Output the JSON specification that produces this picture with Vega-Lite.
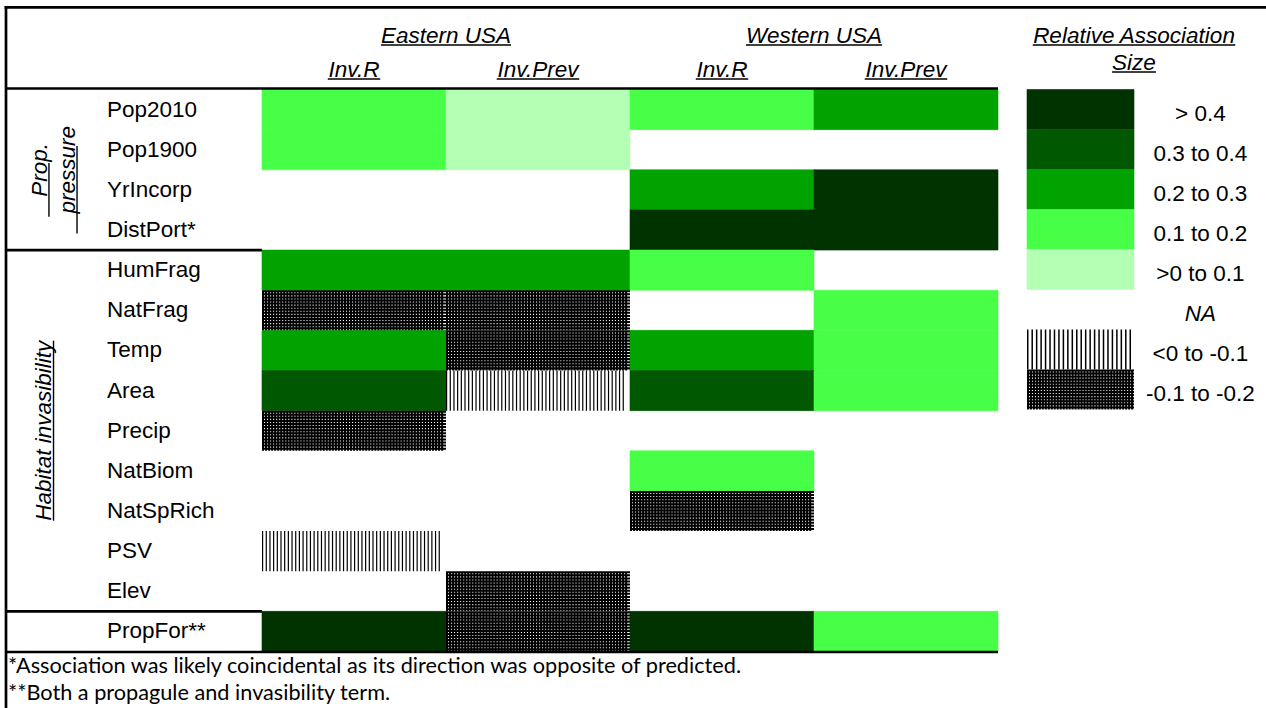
{
  "$schema": "https://vega.github.io/schema/vega-lite/v6.json",
  "width": 1266,
  "height": 708,
  "padding": 0,
  "autosize": {"type": "none"},
  "background": "white",
  "config": {
    "view": {"stroke": null},
    "axis": {"disable": true},
    "legend": {"disable": true},
    "font": "Liberation Sans",
    "mark": {"color": "#000"},
    "text": {"color": "#000", "font": "Liberation Sans"}
  },
  "datasets": {
    "rows": [
      {"row": "Pop2010"}, {"row": "Pop1900"}, {"row": "YrIncorp"}, {"row": "DistPort*"},
      {"row": "HumFrag"}, {"row": "NatFrag"}, {"row": "Temp"}, {"row": "Area"},
      {"row": "Precip"}, {"row": "NatBiom"}, {"row": "NatSpRich"}, {"row": "PSV"},
      {"row": "Elev"}, {"row": "PropFor**"}
    ],
    "cells": [
      {"row": "Pop2010", "col": "E Inv.R", "assoc": "0.1 to 0.2"},
      {"row": "Pop2010", "col": "E Inv.Prev", "assoc": ">0 to 0.1"},
      {"row": "Pop2010", "col": "W Inv.R", "assoc": "0.1 to 0.2"},
      {"row": "Pop2010", "col": "W Inv.Prev", "assoc": "0.2 to 0.3"},
      {"row": "Pop1900", "col": "E Inv.R", "assoc": "0.1 to 0.2"},
      {"row": "Pop1900", "col": "E Inv.Prev", "assoc": ">0 to 0.1"},
      {"row": "YrIncorp", "col": "W Inv.R", "assoc": "0.2 to 0.3"},
      {"row": "YrIncorp", "col": "W Inv.Prev", "assoc": "> 0.4"},
      {"row": "DistPort*", "col": "W Inv.R", "assoc": "> 0.4"},
      {"row": "DistPort*", "col": "W Inv.Prev", "assoc": "> 0.4"},
      {"row": "HumFrag", "col": "E Inv.R", "assoc": "0.2 to 0.3"},
      {"row": "HumFrag", "col": "E Inv.Prev", "assoc": "0.2 to 0.3"},
      {"row": "HumFrag", "col": "W Inv.R", "assoc": "0.1 to 0.2"},
      {"row": "NatFrag", "col": "E Inv.R", "assoc": "-0.1 to -0.2"},
      {"row": "NatFrag", "col": "E Inv.Prev", "assoc": "-0.1 to -0.2"},
      {"row": "NatFrag", "col": "W Inv.Prev", "assoc": "0.1 to 0.2"},
      {"row": "Temp", "col": "E Inv.R", "assoc": "0.2 to 0.3"},
      {"row": "Temp", "col": "E Inv.Prev", "assoc": "-0.1 to -0.2"},
      {"row": "Temp", "col": "W Inv.R", "assoc": "0.2 to 0.3"},
      {"row": "Temp", "col": "W Inv.Prev", "assoc": "0.1 to 0.2"},
      {"row": "Area", "col": "E Inv.R", "assoc": "0.3 to 0.4"},
      {"row": "Area", "col": "E Inv.Prev", "assoc": "<0 to -0.1"},
      {"row": "Area", "col": "W Inv.R", "assoc": "0.3 to 0.4"},
      {"row": "Area", "col": "W Inv.Prev", "assoc": "0.1 to 0.2"},
      {"row": "Precip", "col": "E Inv.R", "assoc": "-0.1 to -0.2"},
      {"row": "NatBiom", "col": "W Inv.R", "assoc": "0.1 to 0.2"},
      {"row": "NatSpRich", "col": "W Inv.R", "assoc": "-0.1 to -0.2"},
      {"row": "PSV", "col": "E Inv.R", "assoc": "<0 to -0.1"},
      {"row": "Elev", "col": "E Inv.Prev", "assoc": "-0.1 to -0.2"},
      {"row": "PropFor**", "col": "E Inv.R", "assoc": "> 0.4"},
      {"row": "PropFor**", "col": "E Inv.Prev", "assoc": "-0.1 to -0.2"},
      {"row": "PropFor**", "col": "W Inv.R", "assoc": "> 0.4"},
      {"row": "PropFor**", "col": "W Inv.Prev", "assoc": "0.1 to 0.2"}
    ],
    "cols": [
      {"col": "E Inv.R", "region": "Eastern USA", "metric": "Inv.R"},
      {"col": "E Inv.Prev", "region": "Eastern USA", "metric": "Inv.Prev"},
      {"col": "W Inv.R", "region": "Western USA", "metric": "Inv.R"},
      {"col": "W Inv.Prev", "region": "Western USA", "metric": "Inv.Prev"}
    ],
    "regions": [{"region": "Eastern USA"}, {"region": "Western USA"}],
    "legend": [
      {"assoc": "> 0.4"}, {"assoc": "0.3 to 0.4"}, {"assoc": "0.2 to 0.3"}, {"assoc": "0.1 to 0.2"},
      {"assoc": ">0 to 0.1"}, {"assoc": "NA"}, {"assoc": "<0 to -0.1"}, {"assoc": "-0.1 to -0.2"}
    ],
    "ltitle": [{"line": "Relative Association"}, {"line": "Size"}],
    "notes": [
      {"note": "*Association was likely coincidental as its direction was opposite of predicted."},
      {"note": "**Both a propagule and invasibility term."}
    ]
  },
  "resolve": {"scale": {"x": "independent", "y": "independent", "fill": "independent", "stroke": "independent", "size": "independent"}},
  "layer": [
    {
      "data": {"name": "cells"},
      "encoding": {
        "x": {"field": "col", "type": "nominal", "axis": null, "scale": {"type": "band", "domain": ["E Inv.R", "E Inv.Prev", "W Inv.R", "W Inv.Prev"], "range": [262, 998], "paddingInner": 0, "paddingOuter": 0}},
        "y": {"field": "row", "type": "nominal", "axis": null, "scale": {"type": "band", "domain": ["Pop2010", "Pop1900", "YrIncorp", "DistPort*", "HumFrag", "NatFrag", "Temp", "Area", "Precip", "NatBiom", "NatSpRich", "PSV", "Elev", "PropFor**"], "range": [89.5, 651.5], "paddingInner": 0, "paddingOuter": 0}}
      },
      "layer": [
        {
          "transform": [{"filter": {"field": "assoc", "oneOf": ["> 0.4", "0.3 to 0.4", "0.2 to 0.3", "0.1 to 0.2", ">0 to 0.1"]}}],
          "mark": {"type": "rect", "strokeWidth": 0.6},
          "encoding": {
            "fill": {"field": "assoc", "type": "nominal", "legend": null, "scale": {"type": "ordinal", "domain": ["> 0.4", "0.3 to 0.4", "0.2 to 0.3", "0.1 to 0.2", ">0 to 0.1"], "range": ["#003300", "#005800", "#00a300", "#48ff48", "#b3ffb3"]}},
            "stroke": {"field": "assoc", "type": "nominal", "legend": null, "scale": {"type": "ordinal", "domain": ["> 0.4", "0.3 to 0.4", "0.2 to 0.3", "0.1 to 0.2", ">0 to 0.1"], "range": ["#003300", "#005800", "#00a300", "#48ff48", "#b3ffb3"]}}
          }
        },
        {
          "transform": [{"filter": {"field": "assoc", "equal": "<0 to -0.1"}}],
          "mark": {"type": "point", "filled": true, "fill": "#000", "strokeWidth": 0, "opacity": 1, "size": 33856,
            "shape": "M-1-.218h.013v.436h-.013v-.436m.04 0h.013v.436h-.013v-.436m.04 0h.013v.436h-.013v-.436m.04 0h.013v.436h-.013v-.436m.04 0h.013v.436h-.013v-.436m.04 0h.013v.436h-.013v-.436m.04 0h.013v.436h-.013v-.436m.04 0h.013v.436h-.013v-.436m.04 0h.013v.436h-.013v-.436m.04 0h.013v.436h-.013v-.436m.04 0h.013v.436h-.013v-.436m.04 0h.013v.436h-.013v-.436m.04 0h.013v.436h-.013v-.436m.04 0h.013v.436h-.013v-.436m.04 0h.013v.436h-.013v-.436m.04 0h.013v.436h-.013v-.436m.04 0h.013v.436h-.013v-.436m.04 0h.013v.436h-.013v-.436m.04 0h.013v.436h-.013v-.436m.04 0h.013v.436h-.013v-.436m.04 0h.013v.436h-.013v-.436m.04 0h.013v.436h-.013v-.436m.04 0h.013v.436h-.013v-.436m.04 0h.013v.436h-.013v-.436m.04 0h.013v.436h-.013v-.436m.04 0h.013v.436h-.013v-.436m.04 0h.013v.436h-.013v-.436m.04 0h.013v.436h-.013v-.436m.04 0h.013v.436h-.013v-.436m.04 0h.013v.436h-.013v-.436m.04 0h.013v.436h-.013v-.436m.04 0h.013v.436h-.013v-.436m.04 0h.013v.436h-.013v-.436m.04 0h.013v.436h-.013v-.436m.04 0h.013v.436h-.013v-.436m.04 0h.013v.436h-.013v-.436m.04 0h.013v.436h-.013v-.436m.04 0h.013v.436h-.013v-.436m.04 0h.013v.436h-.013v-.436m.04 0h.013v.436h-.013v-.436m.04 0h.013v.436h-.013v-.436m.04 0h.013v.436h-.013v-.436m.04 0h.013v.436h-.013v-.436m.04 0h.013v.436h-.013v-.436m.04 0h.013v.436h-.013v-.436m.04 0h.013v.436h-.013v-.436m.04 0h.013v.436h-.013v-.436m.04 0h.013v.436h-.013v-.436m.04 0h.013v.436h-.013v-.436"}
        },
        {
          "transform": [{"filter": {"field": "assoc", "equal": "-0.1 to -0.2"}}],
          "mark": {"type": "point", "filled": true, "fill": "#000", "strokeWidth": 0, "opacity": 1, "size": 33856,
            "shape": "M-1-.218h.022v.436h-.022v-.436m.033 0h.022v.436h-.022v-.436m.033 0h.022v.436h-.022v-.436m.033 0h.022v.436h-.022v-.436m.033 0h.022v.436h-.022v-.436m.033 0h.022v.436h-.022v-.436m.033 0h.022v.436h-.022v-.436m.033 0h.022v.436h-.022v-.436m.033 0h.022v.436h-.022v-.436m.033 0h.022v.436h-.022v-.436m.033 0h.022v.436h-.022v-.436m.033 0h.022v.436h-.022v-.436m.033 0h.022v.436h-.022v-.436m.033 0h.022v.436h-.022v-.436m.033 0h.022v.436h-.022v-.436m.033 0h.022v.436h-.022v-.436m.033 0h.022v.436h-.022v-.436m.033 0h.022v.436h-.022v-.436m.033 0h.022v.436h-.022v-.436m.033 0h.022v.436h-.022v-.436m.033 0h.022v.436h-.022v-.436m.033 0h.022v.436h-.022v-.436m.033 0h.022v.436h-.022v-.436m.033 0h.022v.436h-.022v-.436m.033 0h.022v.436h-.022v-.436m.033 0h.022v.436h-.022v-.436m.033 0h.022v.436h-.022v-.436m.033 0h.022v.436h-.022v-.436m.033 0h.022v.436h-.022v-.436m.033 0h.022v.436h-.022v-.436m.033 0h.022v.436h-.022v-.436m.033 0h.022v.436h-.022v-.436m.033 0h.022v.436h-.022v-.436m.033 0h.022v.436h-.022v-.436m.033 0h.022v.436h-.022v-.436m.033 0h.022v.436h-.022v-.436m.033 0h.022v.436h-.022v-.436m.033 0h.022v.436h-.022v-.436m.033 0h.022v.436h-.022v-.436m.033 0h.022v.436h-.022v-.436m.033 0h.022v.436h-.022v-.436m.033 0h.022v.436h-.022v-.436m.033 0h.022v.436h-.022v-.436m.033 0h.022v.436h-.022v-.436m.033 0h.022v.436h-.022v-.436m.033 0h.022v.436h-.022v-.436m.033 0h.022v.436h-.022v-.436m.033 0h.022v.436h-.022v-.436m.033 0h.022v.436h-.022v-.436m.033 0h.022v.436h-.022v-.436m.033 0h.022v.436h-.022v-.436m.033 0h.022v.436h-.022v-.436m.033 0h.022v.436h-.022v-.436m.033 0h.022v.436h-.022v-.436m.033 0h.022v.436h-.022v-.436m.033 0h.022v.436h-.022v-.436m.033 0h.022v.436h-.022v-.436m.033 0h.022v.436h-.022v-.436m.033 0h.022v.436h-.022v-.436m.033 0h.022v.436h-.022v-.436M-1-.218h2v.022h-2v-.022m0 .0335h2v.022h-2v-.022m0 .0335h2v.022h-2v-.022m0 .0335h2v.022h-2v-.022m0 .0335h2v.022h-2v-.022m0 .0335h2v.022h-2v-.022m0 .0335h2v.022h-2v-.022m0 .0335h2v.022h-2v-.022m0 .0335h2v.022h-2v-.022m0 .0335h2v.022h-2v-.022m0 .0335h2v.022h-2v-.022m0 .0335h2v.022h-2v-.022m0 .0335h2v.022h-2v-.022"}
        }
      ]
    },
    {
      "data": {"values": [{}]},
      "layer": [
        {
          "mark": {"type": "rule", "strokeWidth": 2.7, "yOffset": -1},
          "encoding": {
            "x": {"datum": "frame", "type": "nominal", "bandPosition": 0, "axis": null, "scale": {"type": "band", "domain": ["frame"], "range": [6, 998], "paddingInner": 0, "paddingOuter": 0}},
            "x2": {"datum": "frame", "bandPosition": 1},
            "y": {"datum": "Pop2010", "type": "nominal", "bandPosition": 0, "axis": null, "scale": {"type": "band", "domain": ["Pop2010", "Pop1900", "YrIncorp", "DistPort*", "HumFrag", "NatFrag", "Temp", "Area", "Precip", "NatBiom", "NatSpRich", "PSV", "Elev", "PropFor**"], "range": [89.5, 651.5], "paddingInner": 0, "paddingOuter": 0}}
          }
        },
        {
          "mark": {"type": "rule", "strokeWidth": 2.7},
          "encoding": {
            "x": {"datum": "frame", "type": "nominal", "bandPosition": 0},
            "x2": {"datum": "frame", "bandPosition": 0.258},
            "y": {"datum": "HumFrag", "type": "nominal", "bandPosition": 0}
          }
        },
        {
          "mark": {"type": "rule", "strokeWidth": 2.7},
          "encoding": {
            "x": {"datum": "frame", "type": "nominal", "bandPosition": 0},
            "x2": {"datum": "frame", "bandPosition": 0.258},
            "y": {"datum": "PropFor**", "type": "nominal", "bandPosition": 0}
          }
        },
        {
          "mark": {"type": "rule", "strokeWidth": 2.7, "yOffset": 0.5},
          "encoding": {
            "x": {"datum": "frame", "type": "nominal", "bandPosition": 0},
            "x2": {"datum": "frame", "bandPosition": 1},
            "y": {"datum": "PropFor**", "type": "nominal", "bandPosition": 1}
          }
        }
      ]
    },
    {
      "data": {"values": [{}]},
      "layer": [
        {
          "mark": {"type": "rule", "strokeWidth": 2.7, "strokeCap": "square"},
          "encoding": {
            "x": {"datum": "page", "type": "nominal", "bandPosition": 0, "axis": null, "scale": {"type": "band", "domain": ["page"], "range": [6, 1266], "paddingInner": 0, "paddingOuter": 0}},
            "x2": {"datum": "page", "bandPosition": 1},
            "y": {"datum": "page", "type": "nominal", "bandPosition": 0, "axis": null, "scale": {"type": "band", "domain": ["page"], "range": [7.3, 708], "paddingInner": 0, "paddingOuter": 0}}
          }
        },
        {
          "mark": {"type": "rule", "strokeWidth": 2.7, "strokeCap": "square"},
          "encoding": {
            "x": {"datum": "page", "type": "nominal", "bandPosition": 0},
            "y": {"datum": "page", "type": "nominal", "bandPosition": 0},
            "y2": {"datum": "page", "bandPosition": 1}
          }
        }
      ]
    },
    {
      "data": {"name": "rows"},
      "layer": [
        {
          "mark": {"type": "text", "fontSize": 22.5, "align": "left", "baseline": "middle"},
          "encoding": {
            "x": {"datum": "frame", "type": "nominal", "bandPosition": 0.1018, "axis": null, "scale": {"type": "band", "domain": ["frame"], "range": [6, 998], "paddingInner": 0, "paddingOuter": 0}},
            "y": {"field": "row", "type": "nominal", "axis": null, "scale": {"type": "band", "domain": ["Pop2010", "Pop1900", "YrIncorp", "DistPort*", "HumFrag", "NatFrag", "Temp", "Area", "Precip", "NatBiom", "NatSpRich", "PSV", "Elev", "PropFor**"], "range": [89.5, 651.5], "paddingInner": 0, "paddingOuter": 0}},
            "text": {"field": "row"}
          }
        },
        {
          "data": {"values": [{}]},
          "mark": {"type": "text", "text": ["Prop.", "pressure"], "fontSize": 22.5, "fontStyle": "italic", "angle": 270, "align": "center", "baseline": "alphabetic", "lineHeight": 28},
          "encoding": {
            "x": {"datum": "frame", "type": "nominal", "bandPosition": 0.0413},
            "y": {"datum": "YrIncorp", "type": "nominal", "bandPosition": 0}
          }
        },
        {
          "data": {"values": [{}]},
          "mark": {"type": "tick", "orient": "vertical", "size": 53.8, "thickness": 1.4, "opacity": 1},
          "encoding": {
            "x": {"datum": "frame", "type": "nominal", "bandPosition": 0.0433},
            "y": {"datum": "YrIncorp", "type": "nominal", "bandPosition": 0}
          }
        },
        {
          "data": {"values": [{}]},
          "mark": {"type": "tick", "orient": "vertical", "size": 87.5, "thickness": 1.4, "opacity": 1},
          "encoding": {
            "x": {"datum": "frame", "type": "nominal", "bandPosition": 0.0716},
            "y": {"datum": "YrIncorp", "type": "nominal", "bandPosition": 0}
          }
        },
        {
          "data": {"values": [{}]},
          "mark": {"type": "text", "text": "Habitat invasibility", "fontSize": 22.5, "fontStyle": "italic", "angle": 270, "align": "center", "baseline": "alphabetic"},
          "encoding": {
            "x": {"datum": "frame", "type": "nominal", "bandPosition": 0.0454},
            "y": {"datum": "Precip", "type": "nominal", "bandPosition": 0.5}
          }
        },
        {
          "data": {"values": [{}]},
          "mark": {"type": "tick", "orient": "vertical", "size": 180, "thickness": 1.4, "opacity": 1},
          "encoding": {
            "x": {"datum": "frame", "type": "nominal", "bandPosition": 0.0479},
            "y": {"datum": "Precip", "type": "nominal", "bandPosition": 0.5}
          }
        }
      ]
    },
    {
      "data": {"name": "cols"},
      "encoding": {
        "x": {"field": "col", "type": "nominal", "axis": null, "scale": {"type": "band", "domain": ["E Inv.R", "E Inv.Prev", "W Inv.R", "W Inv.Prev"], "range": [262, 998], "paddingInner": 0, "paddingOuter": 0}},
        "y": {"datum": "metric", "type": "nominal", "axis": null, "scale": {"type": "band", "domain": ["region", "metric"], "range": [26, 94], "paddingInner": 0, "paddingOuter": 0}}
      },
      "layer": [
        {
          "mark": {"type": "text", "fontSize": 22.5, "fontStyle": "italic", "align": "center", "baseline": "alphabetic"},
          "encoding": {"text": {"field": "metric"}}
        },
        {
          "mark": {"type": "tick", "orient": "horizontal", "thickness": 1.4, "opacity": 1},
          "encoding": {
            "y": {"datum": "metric", "type": "nominal", "bandPosition": 0.559},
            "size": {"field": "metric", "type": "nominal", "legend": null, "scale": {"type": "ordinal", "domain": ["Inv.R", "Inv.Prev"], "range": [52.5, 82.5]}}
          }
        }
      ]
    },
    {
      "data": {"name": "regions"},
      "encoding": {
        "x": {"field": "region", "type": "nominal", "axis": null, "scale": {"type": "band", "domain": ["Eastern USA", "Western USA"], "range": [262, 998], "paddingInner": 0, "paddingOuter": 0}},
        "y": {"datum": "region", "type": "nominal", "axis": null, "scale": {"type": "band", "domain": ["region", "metric"], "range": [26, 94], "paddingInner": 0, "paddingOuter": 0}}
      },
      "layer": [
        {
          "mark": {"type": "text", "fontSize": 22.5, "fontStyle": "italic", "align": "center", "baseline": "alphabetic"},
          "encoding": {"text": {"field": "region"}}
        },
        {
          "mark": {"type": "tick", "orient": "horizontal", "thickness": 1.4, "opacity": 1},
          "encoding": {
            "y": {"datum": "region", "type": "nominal", "bandPosition": 0.559},
            "size": {"field": "region", "type": "nominal", "legend": null, "scale": {"type": "ordinal", "domain": ["Eastern USA", "Western USA"], "range": [130, 136]}}
          }
        }
      ]
    },
    {
      "data": {"name": "legend"},
      "encoding": {
        "x": {"datum": "swatch", "type": "nominal", "axis": null, "scale": {"type": "band", "domain": ["swatch", "label"], "range": [1027, 1241], "paddingInner": 0, "paddingOuter": 0}},
        "y": {"field": "assoc", "type": "nominal", "axis": null, "scale": {"type": "band", "domain": ["> 0.4", "0.3 to 0.4", "0.2 to 0.3", "0.1 to 0.2", ">0 to 0.1", "NA", "<0 to -0.1", "-0.1 to -0.2"], "range": [89.5, 409.5], "paddingInner": 0, "paddingOuter": 0}}
      },
      "layer": [
        {
          "transform": [{"filter": {"field": "assoc", "oneOf": ["> 0.4", "0.3 to 0.4", "0.2 to 0.3", "0.1 to 0.2", ">0 to 0.1"]}}],
          "mark": {"type": "rect", "strokeWidth": 0.6},
          "encoding": {
            "fill": {"field": "assoc", "type": "nominal", "legend": null, "scale": {"type": "ordinal", "domain": ["> 0.4", "0.3 to 0.4", "0.2 to 0.3", "0.1 to 0.2", ">0 to 0.1"], "range": ["#003300", "#005800", "#00a300", "#48ff48", "#b3ffb3"]}},
            "stroke": {"field": "assoc", "type": "nominal", "legend": null, "scale": {"type": "ordinal", "domain": ["> 0.4", "0.3 to 0.4", "0.2 to 0.3", "0.1 to 0.2", ">0 to 0.1"], "range": ["#003300", "#005800", "#00a300", "#48ff48", "#b3ffb3"]}}
          }
        },
        {
          "transform": [{"filter": {"field": "assoc", "equal": "<0 to -0.1"}}],
          "mark": {"type": "point", "filled": true, "fill": "#000", "strokeWidth": 0, "opacity": 1, "size": 11449,
            "shape": "M-1-.374h.028v.748h-.028v-.748m.0833 0h.028v.748h-.028v-.748m.0833 0h.028v.748h-.028v-.748m.0833 0h.028v.748h-.028v-.748m.0833 0h.028v.748h-.028v-.748m.0833 0h.028v.748h-.028v-.748m.0833 0h.028v.748h-.028v-.748m.0833 0h.028v.748h-.028v-.748m.0833 0h.028v.748h-.028v-.748m.0833 0h.028v.748h-.028v-.748m.0833 0h.028v.748h-.028v-.748m.0833 0h.028v.748h-.028v-.748m.0833 0h.028v.748h-.028v-.748m.0833 0h.028v.748h-.028v-.748m.0833 0h.028v.748h-.028v-.748m.0833 0h.028v.748h-.028v-.748m.0833 0h.028v.748h-.028v-.748m.0833 0h.028v.748h-.028v-.748m.0833 0h.028v.748h-.028v-.748m.0833 0h.028v.748h-.028v-.748m.0833 0h.028v.748h-.028v-.748m.0833 0h.028v.748h-.028v-.748m.0833 0h.028v.748h-.028v-.748m.0833 0h.028v.748h-.028v-.748"}
        },
        {
          "transform": [{"filter": {"field": "assoc", "equal": "-0.1 to -0.2"}}],
          "mark": {"type": "point", "filled": true, "fill": "#000", "strokeWidth": 0, "opacity": 1, "size": 11449,
            "shape": "M-1-.374h.037v.748h-.037v-.748m.0556 0h.037v.748h-.037v-.748m.0556 0h.037v.748h-.037v-.748m.0556 0h.037v.748h-.037v-.748m.0556 0h.037v.748h-.037v-.748m.0556 0h.037v.748h-.037v-.748m.0556 0h.037v.748h-.037v-.748m.0556 0h.037v.748h-.037v-.748m.0556 0h.037v.748h-.037v-.748m.0556 0h.037v.748h-.037v-.748m.0556 0h.037v.748h-.037v-.748m.0556 0h.037v.748h-.037v-.748m.0556 0h.037v.748h-.037v-.748m.0556 0h.037v.748h-.037v-.748m.0556 0h.037v.748h-.037v-.748m.0556 0h.037v.748h-.037v-.748m.0556 0h.037v.748h-.037v-.748m.0556 0h.037v.748h-.037v-.748m.0556 0h.037v.748h-.037v-.748m.0556 0h.037v.748h-.037v-.748m.0556 0h.037v.748h-.037v-.748m.0556 0h.037v.748h-.037v-.748m.0556 0h.037v.748h-.037v-.748m.0556 0h.037v.748h-.037v-.748m.0556 0h.037v.748h-.037v-.748m.0556 0h.037v.748h-.037v-.748m.0556 0h.037v.748h-.037v-.748m.0556 0h.037v.748h-.037v-.748m.0556 0h.037v.748h-.037v-.748m.0556 0h.037v.748h-.037v-.748m.0556 0h.037v.748h-.037v-.748m.0556 0h.037v.748h-.037v-.748m.0556 0h.037v.748h-.037v-.748m.0556 0h.037v.748h-.037v-.748m.0556 0h.037v.748h-.037v-.748m.0556 0h.037v.748h-.037v-.748M-1-.374h2v.037h-2v-.037m0 .0575h2v.037h-2v-.037m0 .0575h2v.037h-2v-.037m0 .0575h2v.037h-2v-.037m0 .0575h2v.037h-2v-.037m0 .0575h2v.037h-2v-.037m0 .0575h2v.037h-2v-.037m0 .0575h2v.037h-2v-.037m0 .0575h2v.037h-2v-.037m0 .0575h2v.037h-2v-.037m0 .0575h2v.037h-2v-.037m0 .0575h2v.037h-2v-.037m0 .0575h2v.037h-2v-.037"}
        },
        {
          "mark": {"type": "text", "fontSize": 22.5, "align": "center", "baseline": "middle", "dy": 4, "fontStyle": {"expr": "datum.assoc === 'NA' ? 'italic' : 'normal'"}},
          "encoding": {
            "x": {"datum": "label", "type": "nominal", "bandPosition": 0.62},
            "text": {"field": "assoc"}
          }
        }
      ]
    },
    {
      "data": {"name": "ltitle"},
      "encoding": {
        "x": {"datum": "title", "type": "nominal", "axis": null, "scale": {"type": "band", "domain": ["title"], "range": [1034, 1234], "paddingInner": 0, "paddingOuter": 0}},
        "y": {"field": "line", "type": "nominal", "axis": null, "scale": {"type": "band", "domain": ["Relative Association", "Size"], "range": [29.5, 83.5], "paddingInner": 0, "paddingOuter": 0}}
      },
      "layer": [
        {
          "mark": {"type": "text", "fontSize": 22.5, "fontStyle": "italic", "align": "center", "baseline": "alphabetic"},
          "encoding": {"text": {"field": "line"}}
        },
        {
          "mark": {"type": "tick", "orient": "horizontal", "thickness": 1.4, "opacity": 1},
          "encoding": {
            "y": {"field": "line", "type": "nominal", "bandPosition": 0.574},
            "size": {"field": "line", "type": "nominal", "legend": null, "scale": {"type": "ordinal", "domain": ["Relative Association", "Size"], "range": [202.5, 43.8]}}
          }
        }
      ]
    },
    {
      "data": {"name": "notes"},
      "mark": {"type": "text", "font": "Lato", "fontSize": 21.7, "align": "left", "baseline": "middle"},
      "encoding": {
        "x": {"datum": "fn", "type": "nominal", "bandPosition": 0, "axis": null, "scale": {"type": "band", "domain": ["fn"], "range": [8, 760], "paddingInner": 0, "paddingOuter": 0}},
        "y": {"field": "note", "type": "nominal", "axis": null, "scale": {"type": "band", "domain": ["*Association was likely coincidental as its direction was opposite of predicted.", "**Both a propagule and invasibility term."], "range": [652, 706], "paddingInner": 0, "paddingOuter": 0}},
        "text": {"field": "note"}
      }
    }
  ]
}
